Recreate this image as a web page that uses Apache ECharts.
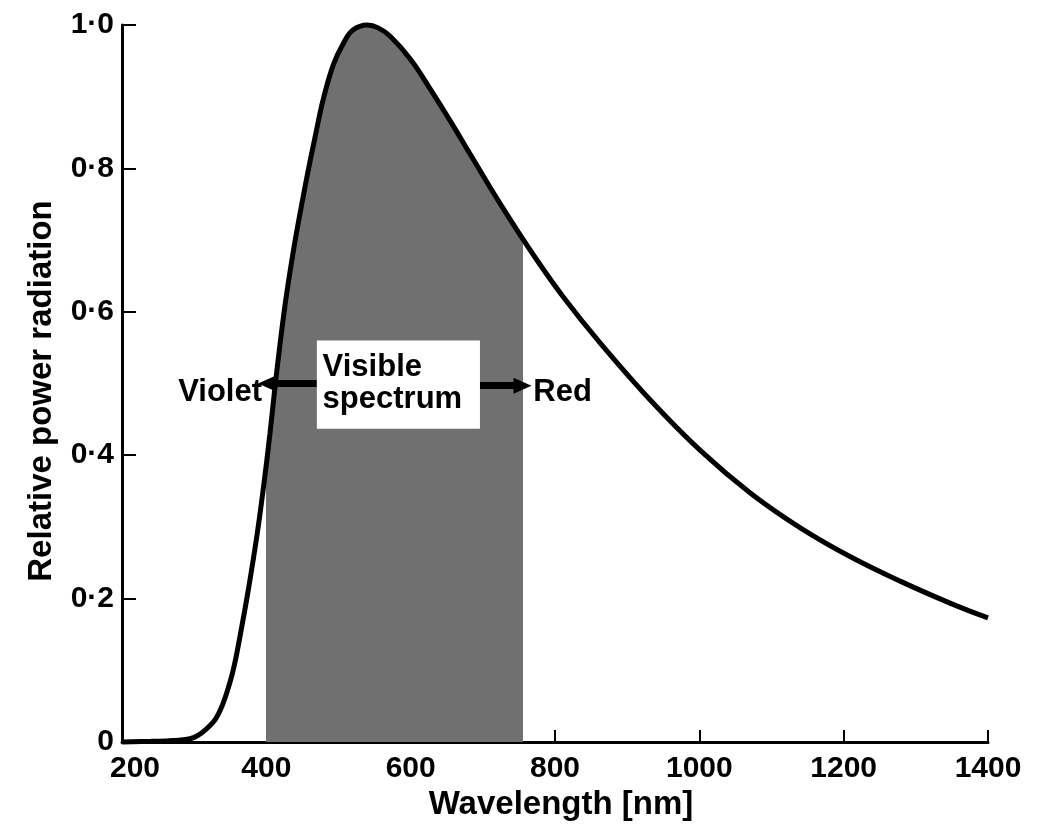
<!DOCTYPE html>
<html><head><meta charset="utf-8">
<script src="https://cdn.jsdelivr.net/npm/echarts@6/dist/echarts.min.js"></script>
<style>html,body{margin:0;padding:0;background:#fff}#c{width:1047px;height:828px}</style>
</head><body><div id="c"></div>
<script>
// ---- data ----
const wavelengths = [200, 240, 270, 300, 325, 335, 343, 354, 364, 375, 387, 396, 405, 412, 419, 426, 433, 440, 450, 458, 468, 479, 493, 507, 520, 540, 555, 572, 600, 627, 655, 683, 727, 773, 812, 863, 932, 1002, 1071, 1141, 1210, 1279, 1349, 1400];
const power = [0, 0.001, 0.002, 0.0065, 0.026, 0.042, 0.062, 0.100, 0.150, 0.212, 0.288, 0.355, 0.43, 0.495, 0.555, 0.61, 0.657, 0.70, 0.755, 0.797, 0.846, 0.897, 0.945, 0.975, 0.993, 1.0, 0.996, 0.984, 0.952, 0.911, 0.866, 0.819, 0.746, 0.675, 0.620, 0.556, 0.477, 0.406, 0.347, 0.298, 0.258, 0.224, 0.193, 0.173];
const xTicks = [200, 400, 600, 800, 1000, 1200, 1400];
const xTickLabels = ['200', '400', '600', '800', '1000', '1200', '1400'];
const yTicks = [0, 0.2, 0.4, 0.6, 0.8, 1.0];
const yTickLabels = ['0', '0·2', '0·4', '0·6', '0·8', '1·0'];
const visibleRange = [400, 756];
const xTitle = 'Wavelength [nm]';
const yTitle = 'Relative power radiation';
const violetText = 'Violet';
const redText = 'Red';
const boxText = 'Visible\nspectrum';
// annotation anchors (data coordinates)
const violetAnchor = [394, 0.488];
const redAnchor = [770, 0.488];
const boxCorners = [[470, 0.56], [696, 0.437]];
const boxTextAnchor = [478, 0.5];
const leftArrow = [[470, 0.5], [401, 0.5]];
const rightArrow = [[696, 0.497], [755, 0.497]];

const FONT = '"Liberation Sans", Arial, sans-serif';
const curve = wavelengths.map((w, i) => [w, power[i]]);

const chart = echarts.init(document.getElementById('c'), null, {renderer: 'canvas'});
const labelFor = (ticks, labels) => v => {
  const i = ticks.findIndex(t => Math.abs(t - v) < 1e-9);
  return i < 0 ? '' : labels[i];
};
const xLab = labelFor(xTicks, xTickLabels);
const yLab = labelFor(yTicks, yTickLabels);

chart.setOption({
  backgroundColor: '#fff',
  animation: false,
  grid: {left: 122, right: 59, top: 25, bottom: 86, containLabel: false},
  xAxis: {
    type: 'value', min: 200, max: 1400, interval: 200,
    name: xTitle, nameLocation: 'middle', nameGap: 43,
    nameTextStyle: {color: '#000', fontSize: 33, fontWeight: 'bold', fontFamily: FONT, padding: [0, 0, 0, 12]},
    axisLine: {show: true, onZero: false, lineStyle: {color: '#000', width: 3}},
    axisTick: {show: true, inside: true, length: 12, lineStyle: {color: '#000', width: 2}},
    axisLabel: {
      color: '#000', fontSize: 30, fontWeight: 'bold', fontFamily: FONT, margin: 12,
      formatter: (v) => v === xTicks[0] ? '{first|' + xLab(v) + '}' : xLab(v),
      rich: {first: {fontSize: 30, fontWeight: 'bold', fontFamily: FONT, color: '#000', padding: [0, 0, 0, 26]}}
    },
    splitLine: {show: false}
  },
  yAxis: {
    type: 'value', min: 0, max: 1, interval: 0.2,
    name: yTitle, nameLocation: 'middle', nameGap: 64, nameRotate: 90,
    nameTextStyle: {color: '#000', fontSize: 33, fontWeight: 'bold', fontFamily: FONT, padding: [0, 15, 0, 0]},
    axisLine: {show: true, onZero: false, lineStyle: {color: '#000', width: 3}},
    axisTick: {show: true, inside: true, length: 14, lineStyle: {color: '#000', width: 2}},
    axisLabel: {color: '#000', fontSize: 30, fontWeight: 'bold', fontFamily: FONT, margin: 8, formatter: yLab},
    splitLine: {show: false}
  },
  visualMap: {
    show: false, type: 'piecewise', dimension: 0, seriesIndex: 1,
    pieces: [{gte: visibleRange[0], lte: visibleRange[1], color: '#707070'}],
    outOfRange: {color: 'rgba(255,255,255,0)'}
  },
  series: [
    {
      type: 'line', data: curve, smooth: 0.4, symbol: 'none', clip: false, z: 5,
      lineStyle: {color: '#000', width: 5},
      markLine: {
        silent: true, symbol: ['none', 'triangle'], symbolSize: [16, 18],
        lineStyle: {color: '#000', width: 7, type: 'solid'},
        label: {show: false},
        data: [
          [{coord: leftArrow[0]}, {coord: leftArrow[1]}],
          [{coord: rightArrow[0]}, {coord: rightArrow[1]}]
        ]
      }
    },
    {
      type: 'line', data: curve, smooth: 0.4, symbol: 'none', z: 2,
      lineStyle: {width: 0},
      areaStyle: {opacity: 1}
    }
  ]
});

const px = d => chart.convertToPixel({gridIndex: 0}, d);
const b0 = px(boxCorners[0]), b1 = px(boxCorners[1]);
const vA = px(violetAnchor), rA = px(redAnchor), tA = px(boxTextAnchor);
chart.setOption({
  graphic: [
    {type: 'rect', z: 100, shape: {x: b0[0], y: b0[1], width: b1[0] - b0[0], height: b1[1] - b0[1]}, style: {fill: '#fff'}},
    {type: 'text', z: 101, x: tA[0], y: tA[1], style: {text: boxText, fill: '#000', font: 'bold 31px ' + FONT, lineHeight: 32, align: 'left', verticalAlign: 'middle'}},
    {type: 'text', z: 101, x: vA[0], y: vA[1], style: {text: violetText, fill: '#000', font: 'bold 31px ' + FONT, align: 'right', verticalAlign: 'middle'}},
    {type: 'text', z: 101, x: rA[0], y: rA[1], style: {text: redText, fill: '#000', font: 'bold 31px ' + FONT, align: 'left', verticalAlign: 'middle'}}
  ]
});
</script>
</body></html>
